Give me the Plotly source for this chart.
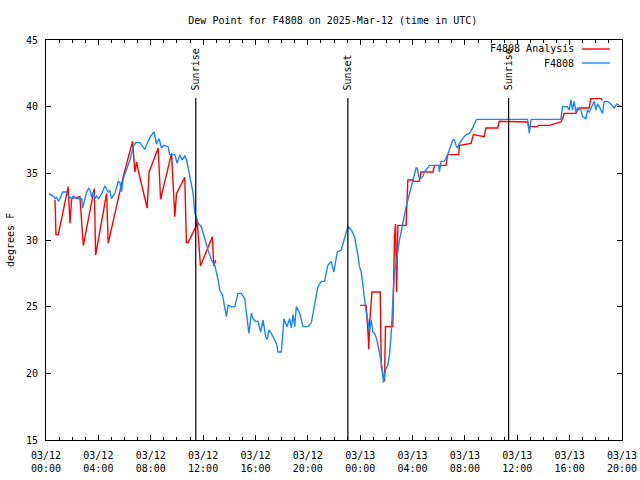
import pandas as pd
import plotly.graph_objects as go

BASE = pd.Timestamp("2025-03-12 00:00")

# Observations (hours after 03/12 00:00 UTC, dew point F)
obs_hours = [0.23, 0.56, 0.69, 0.81, 0.94, 1.07, 1.27, 1.58, 1.7, 1.96, 2.08, 2.34, 2.72, 2.8, 2.9,
             3.1, 3.28, 3.41, 3.48, 3.61, 3.74, 3.87, 4.0, 4.25, 4.5, 4.75, 4.88, 5.0, 5.26, 5.52,
             5.65, 5.77, 5.9, 6.15, 6.41, 6.66, 6.84, 7.17, 7.55, 7.81, 8.0, 8.26, 8.44, 8.64,
             8.82, 9.0, 9.33, 9.45, 9.84, 10.02, 10.22, 10.4, 10.6, 10.73, 10.98,
             11.24, 11.37, 11.62, 11.87, 12.13, 12.38, 12.64, 12.89, 13.15, 13.27, 13.48, 13.65,
             13.78, 13.91, 14.16, 14.42, 14.67, 14.92, 15.18, 15.3, 15.5, 15.69, 15.82, 16.0,
             16.2, 16.4, 16.58, 16.78, 16.91, 17.01, 17.21, 17.47, 17.64, 17.72, 17.98, 18.18,
             18.41, 18.61, 18.74, 18.87, 19.0, 19.12, 19.38, 19.63, 20.01, 20.27, 20.52, 20.77,
             21.03, 21.28, 21.53, 21.79, 21.99, 22.25, 22.55, 22.81, 23.06, 23.32, 23.57, 23.82,
             23.95, 24.08, 24.2, 24.33, 24.46, 24.58, 24.71, 24.84, 24.97, 25.1, 25.28, 25.48,
             25.68, 25.78, 25.93, 26.11, 26.24, 26.37, 26.49, 26.62, 26.75, 26.88, 27.0, 27.13,
             27.26, 27.38, 27.51, 27.64, 27.76, 27.89, 28.02, 28.15, 28.27, 28.35, 28.48, 28.58,
             28.78, 28.91, 29.16, 29.29, 30.0, 30.05, 30.18, 30.43, 30.68, 30.81, 30.94, 31.07,
             31.2, 31.32, 31.45, 31.58, 31.83, 32.09, 32.34, 32.6, 32.85, 32.98, 36.79, 36.87,
             36.92, 37.05, 39.33, 39.46, 39.84, 39.97, 40.1, 40.22, 40.35, 40.48, 40.6, 40.86,
             40.99, 41.24, 41.37, 41.5, 41.88, 42.0, 42.13, 42.26, 42.51, 42.64, 42.9, 43.15,
             43.4, 43.6, 43.9]
obs_values = [33.45, 33.3, 33.1, 33.2, 32.9, 33.1, 33.6, 33.6, 33.3, 33.1, 33.3, 33.1, 33.1, 32.4, 32.8,
              33.6, 33.9, 33.6, 33.2, 33.6, 33.1, 33.3, 33.1, 33.45, 34.05, 33.6, 33.7, 33.1, 33.5, 34.4,
              34.3, 33.6, 34.6, 35.25, 36.0, 37.0, 37.3, 37.3, 36.8, 37.4, 37.8, 38.1, 37.2, 37.6,
              36.9, 37.1, 37.0, 36.4, 36.4, 35.75, 36.4, 36.0, 36.3, 36.05, 34.75,
              33.5, 32.0, 31.25, 31.0, 30.0, 29.25, 28.5, 28.1, 27.0, 26.25, 25.9, 24.9,
              24.25, 25.1, 25.0, 25.0, 26.0, 26.0, 25.6, 24.6, 23.0, 24.5, 24.1, 23.9,
              23.9, 23.1, 24.0, 22.75, 22.55, 23.25, 23.0, 22.5, 22.1, 21.6, 21.6, 24.1,
              23.5, 24.1, 23.4, 24.4, 23.5, 25.0, 24.5, 23.5, 23.5, 23.8, 25.1, 26.5,
              26.9, 26.9, 28.1, 28.4, 27.6, 29.1, 29.25, 30.1, 31.0, 30.75, 30.25, 28.9,
              28.0, 27.6, 26.6, 25.75, 24.6, 24.0, 23.1, 24.0, 23.1, 23.0, 22.5, 21.5,
              20.4, 19.3, 20.25, 20.6, 21.4, 23.0, 25.0, 27.75, 28.25, 29.25, 30.0, 30.6,
              31.25, 32.0, 32.5, 33.0, 33.5, 33.95, 34.5, 35.1, 35.4, 35.4, 34.75, 34.6,
              34.75, 35.1, 35.5, 35.6, 35.6, 35.1, 35.9, 35.9, 36.4, 36.75, 37.25, 37.5,
              37.5, 37.1, 36.9, 37.25, 37.6, 37.9, 38.0, 38.4, 39.0, 39.05, 39.05, 38.4,
              38.0, 39.05, 39.05, 40.0, 40.0, 39.75, 40.5, 39.75, 40.4, 39.6, 39.9, 39.75,
              39.25, 39.1, 39.75, 39.6, 40.4, 39.75, 40.2, 40.0, 39.5, 40.4, 40.4, 40.2,
              39.9, 40.2, 40.0]

# Analysis (None marks the gap)
ana_hours = [0.69, 0.76, 0.94, 1.70, 1.83, 1.96, 2.59, 2.8, 2.85, 3.69, 3.79, 4.63, 4.75, 5.9, 6.61,
             6.79, 6.92, 7.04, 7.73, 7.88, 8.57, 8.75, 9.59, 9.84, 9.97, 10.6, 10.73, 10.86, 11.5,
             11.54, 11.8, 12.71, 12.81, 12.97, 18.0,
             24.0, 24.46, 24.6, 24.66, 24.72, 24.84, 24.9, 25.53, 25.55, 25.61, 25.86, 25.93, 26.49,
             26.57, 26.62, 26.7, 26.78, 26.88, 27.51, 27.64, 28.02, 28.1, 28.5, 28.65, 29.55, 29.7,
             30.56, 30.68, 31.53, 31.58, 32.47, 32.65, 33.48, 33.6, 34.5, 34.63, 36.79, 36.87, 37.55,
             37.63, 38.44, 39.33, 39.46, 39.59, 40.48, 40.6, 40.73, 41.49, 41.62, 42.39, 42.51]
ana_values = [33.0, 30.4, 30.4, 34.0, 31.25, 33.1, 33.25, 30.75, 29.6, 33.87, 28.87, 33.5, 29.75, 34.75, 37.4,
              35.1, 35.85, 35.25, 32.4, 35.1, 36.9, 33.05, 36.5, 31.75, 33.5, 34.7, 29.8, 29.8, 31.1,
              31.55, 28.05, 30.25, 28.05, 28.5, None,
              25.1, 25.1, 23.0, 21.8, 23.75, 25.4, 26.1, 26.1, 24.0, 20.5, 19.4, 23.5, 23.5,
              27.75, 30.25, 31.2, 26.1, 31.1, 31.1, 34.5, 34.5, 34.4, 34.4, 35.1, 35.1, 35.6,
              35.6, 36.4, 36.4, 37.1, 37.25, 37.9, 37.75, 38.4, 38.4, 38.9, 38.85, 38.5, 38.5,
              38.6, 38.6, 38.85, 39.1, 39.5, 39.5, 39.75, 39.9, 39.9, 40.6, 40.6, 40.5]

sun_events = ["Sunrise", "Sunset", "Sunrise"]
sun_hours = [11.44, 23.06, 35.34]

tick_hours = [0, 4, 8, 12, 16, 20, 24, 28, 32, 36, 40, 44]
tick_labels = ["03/12<br>00:00", "03/12<br>04:00", "03/12<br>08:00", "03/12<br>12:00",
               "03/12<br>16:00", "03/12<br>20:00", "03/13<br>00:00", "03/13<br>04:00",
               "03/13<br>08:00", "03/13<br>12:00", "03/13<br>16:00", "03/13<br>20:00"]
minor_tick_hours = list(range(0, 45))

def to_time(hours):
    return [BASE + pd.Timedelta(hours=h) for h in hours]

FONT = "DejaVu Sans Mono"
RED = "#ff0000"
BLUE = "#1a85ff"

fig = go.Figure()
fig.add_trace(go.Scatter(x=to_time(ana_hours), y=ana_values, mode="lines",
                         line=dict(color=RED, width=1.4), name="F4808 Analysis",
                         connectgaps=False))
fig.add_trace(go.Scatter(x=to_time(obs_hours), y=obs_values, mode="lines",
                         line=dict(color=BLUE, width=1.4), name="F4808"))

shapes = []
annotations = []
for name, h in zip(sun_events, sun_hours):
    t = BASE + pd.Timedelta(hours=h)
    shapes.append(dict(type="line", xref="x", yref="y", x0=t, x1=t, y0=15, y1=40.65,
                       line=dict(color="black", width=1.2)))
    annotations.append(dict(x=t, y=41.05, xref="x", yref="y", text=name, textangle=-90,
                            showarrow=False, xanchor="center", yanchor="bottom",
                            font=dict(family=FONT, size=10, color="black")))

# legend (text right-aligned, sample line to the right)
leg = [("F4808 Analysis", RED, 0.9775), ("F4808", BLUE, 0.9425)]
for txt, col, yp in leg:
    annotations.append(dict(x=0.921, y=yp, xref="paper", yref="paper", text=txt,
                            showarrow=False, xanchor="right", yanchor="middle",
                            font=dict(family=FONT, size=10, color="black")))
    shapes.append(dict(type="line", xref="paper", yref="paper", x0=0.9306, x1=0.979,
                       y0=yp, y1=yp, line=dict(color=col, width=1.4)))

annotations.append(dict(x=-0.0625, y=0.5, xref="paper", yref="paper", text="degrees F",
                        textangle=-90, showarrow=False, xanchor="center", yanchor="middle",
                        font=dict(family=FONT, size=10, color="black")))

fig.update_layout(
    width=640, height=480,
    margin=dict(l=46, r=18, t=40, b=40, autoexpand=False),
    paper_bgcolor="white", plot_bgcolor="white",
    showlegend=False,
    title=dict(text="Dew Point for F4808 on 2025-Mar-12 (time in UTC)", x=0.52, xanchor="center",
               y=1 - 20 / 480, yanchor="middle", font=dict(family=FONT, size=10, color="black")),
    shapes=shapes, annotations=annotations,
    font=dict(family=FONT, size=10, color="black"),
)
fig.update_xaxes(
    range=[BASE, BASE + pd.Timedelta(hours=44)],
    tickmode="array", tickvals=to_time(tick_hours), ticktext=tick_labels,
    showline=True, linecolor="black", linewidth=1, mirror="ticks",
    ticks="inside", ticklen=5, tickcolor="black", tickwidth=1,
    minor=dict(tickmode="array", tickvals=to_time(minor_tick_hours), ticks="inside",
               ticklen=3, tickcolor="black", tickwidth=1, showgrid=False),
    showgrid=False, zeroline=False, automargin=False, ticklabelstandoff=6,
    tickfont=dict(family=FONT, size=10, color="black"),
)
fig.update_yaxes(
    range=[15, 45], tickvals=[15, 20, 25, 30, 35, 40, 45],
    showline=True, linecolor="black", linewidth=1, mirror="ticks",
    ticks="inside", ticklen=5, tickcolor="black", tickwidth=1,
    showgrid=False, zeroline=False, automargin=False, ticklabelstandoff=5,
    tickfont=dict(family=FONT, size=10, color="black"),
)

fig.write_html("out.html", config={"displayModeBar": False},
               post_script="document.body.style.margin='0';")
